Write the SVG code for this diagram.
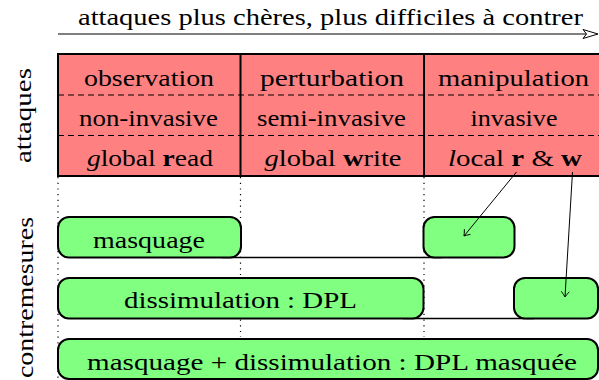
<svg xmlns="http://www.w3.org/2000/svg" width="599" height="380" viewBox="0 0 599 380" font-family="Liberation Serif, DejaVu Serif, serif">
<style>
text{font-size:23px;fill:#000;text-anchor:middle}
.cell{fill:#ff8080;stroke:none}
.box{fill:#80ff80;stroke:#000;stroke-width:2}
.dash{stroke:#000;stroke-width:1;stroke-dasharray:6 4;fill:none}
.dot{stroke:#000;stroke-width:1.2;stroke-dasharray:1.2 4.5;fill:none}
.conn{stroke:#000;stroke-width:1;fill:none}
.edge{stroke:#000;stroke-width:1.6;fill:none}
</style>
<defs>
<marker id="to" viewBox="-6 -5 8 10" markerWidth="8" markerHeight="10" refX="0" refY="0" orient="auto" markerUnits="userSpaceOnUse">
<path d="M-5.5,-4 Q-1.5,-0.8 0,0 Q-1.5,0.8 -5.5,4" fill="none" stroke="#000" stroke-width="0.9"/>
</marker>
</defs>

<g id="title">
<line x1="58" y1="34" x2="587" y2="34" stroke="#000" stroke-width="1.2"/>
<path d="M583,29.5 L598,34 L583,38.5 L586.5,34 Z" fill="#fff" stroke="#000" stroke-width="1"/>
<text x="330.5" y="25" textLength="505" lengthAdjust="spacingAndGlyphs">attaques plus chères, plus difficiles à contrer</text>
</g>

<g id="label-attaques"><text transform="translate(31,115.5) rotate(-90)" textLength="95" lengthAdjust="spacingAndGlyphs">attaques</text></g>
<g id="label-contremesures"><text transform="translate(33,297.5) rotate(-90)" textLength="161" lengthAdjust="spacingAndGlyphs">contremesures</text></g>

<g id="guides">
<line class="dot" x1="58" y1="177" x2="58" y2="380"/>
<line class="dot" x1="240.5" y1="177" x2="240.5" y2="337"/>
<line class="dot" x1="424" y1="177" x2="424" y2="337"/>
</g>

<g id="table">
<rect class="cell" x="58" y="54" width="550" height="122"/>
<line class="dash" x1="58" y1="95" x2="600" y2="95"/>
<line class="dash" x1="58" y1="135.5" x2="600" y2="135.5"/>
<rect x="58" y="54" width="550" height="122" fill="none" stroke="#000" stroke-width="2"/>
<line x1="240.5" y1="54" x2="240.5" y2="176" stroke="#000" stroke-width="2"/>
<line x1="424" y1="54" x2="424" y2="176" stroke="#000" stroke-width="2"/>
</g>

<g id="col-observation">
<text x="149" y="85.5" textLength="130" lengthAdjust="spacingAndGlyphs">observation</text>
<text x="148.5" y="126" textLength="139" lengthAdjust="spacingAndGlyphs">non-invasive</text>
<text x="150" y="165.5" textLength="126" lengthAdjust="spacingAndGlyphs"><tspan font-style="italic">g</tspan>lobal <tspan font-weight="bold">r</tspan>ead</text>
</g>
<g id="col-perturbation">
<text x="332" y="85.5" textLength="144" lengthAdjust="spacingAndGlyphs">perturbation</text>
<text x="331.5" y="126" textLength="149" lengthAdjust="spacingAndGlyphs">semi-invasive</text>
<text x="333" y="165.5" textLength="137" lengthAdjust="spacingAndGlyphs"><tspan font-style="italic">g</tspan>lobal <tspan font-weight="bold">w</tspan>rite</text>
</g>
<g id="col-manipulation">
<text x="513.5" y="85.5" textLength="151" lengthAdjust="spacingAndGlyphs">manipulation</text>
<text x="514" y="126" textLength="87" lengthAdjust="spacingAndGlyphs">invasive</text>
<text x="515" y="165.5" textLength="134" lengthAdjust="spacingAndGlyphs"><tspan font-style="italic">l</tspan>ocal <tspan font-weight="bold">r</tspan> &amp; <tspan font-weight="bold">w</tspan></text>
</g>

<g id="connectors">
<line class="edge" x1="222" y1="257.5" x2="442" y2="257.5"/>
<line class="edge" x1="403" y1="318.5" x2="534" y2="318.5"/>
</g>

<g id="masquage">
<rect class="box" x="58" y="217" width="183" height="40.5" rx="11"/>
<text x="149" y="248" textLength="112" lengthAdjust="spacingAndGlyphs">masquage</text>
</g>
<g id="local-r">
<rect class="box" x="423.5" y="217" width="91" height="40.5" rx="11"/>
</g>
<g id="dissimulation">
<rect class="box" x="58" y="278" width="365.5" height="40.5" rx="11"/>
<text x="240.5" y="308" textLength="233" lengthAdjust="spacingAndGlyphs">dissimulation : DPL</text>
</g>
<g id="local-w">
<rect class="box" x="514" y="278" width="84" height="40.5" rx="11"/>
</g>
<g id="dpl-masquee">
<rect class="box" x="58" y="339" width="540" height="40" rx="11"/>
<text x="332" y="370" textLength="490" lengthAdjust="spacingAndGlyphs">masquage + dissimulation : DPL masquée</text>
</g>

<g id="arrows">
<line class="conn" x1="516.5" y1="172" x2="464" y2="236" marker-end="url(#to)"/>
<line class="conn" x1="572.5" y1="172" x2="565" y2="297" marker-end="url(#to)"/>
</g>
</svg>
